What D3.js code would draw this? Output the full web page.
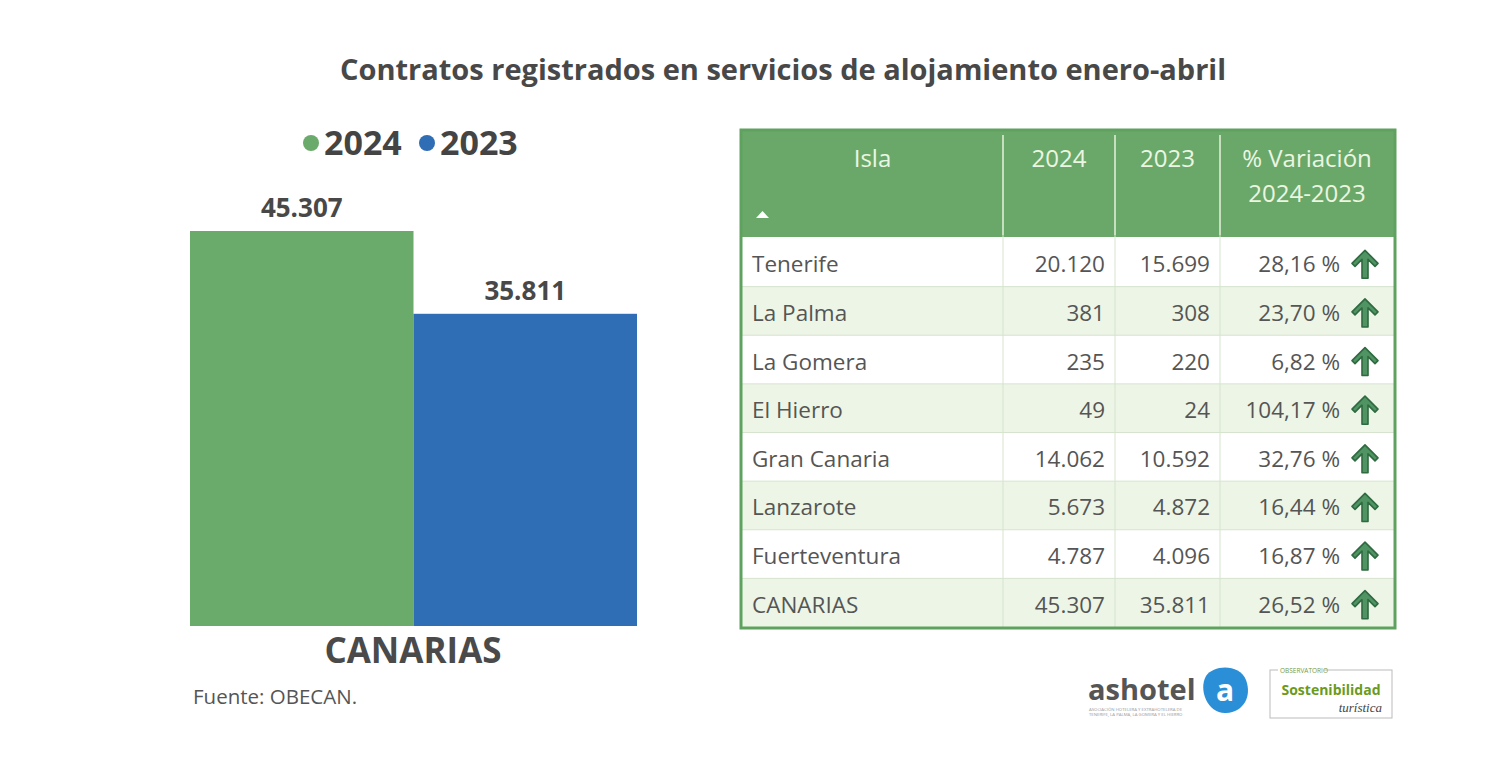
<!DOCTYPE html>
<html>
<head>
<meta charset="utf-8">
<script src="https://cdn.jsdelivr.net/npm/d3@7"></script>
<style>
  body { margin: 0; background: #fff; }
  svg { display: block; font-family: "Open Sans", "Noto Sans", sans-serif; }
</style>
</head>
<body>
<svg id="chart" width="1508" height="780"></svg>
<script>
// data
var years = ["2024", "2023"];
var totals = [45307, 35811];
var yearColors = ["#6aaa6a", "#2f6db4"];

var islas = ["Tenerife", "La Palma", "La Gomera", "El Hierro", "Gran Canaria", "Lanzarote", "Fuerteventura", "CANARIAS"];
var v2024 = [20120, 381, 235, 49, 14062, 5673, 4787, 45307];
var v2023 = [15699, 308, 220, 24, 10592, 4872, 4096, 35811];
var variacion = [28.16, 23.70, 6.82, 104.17, 32.76, 16.44, 16.87, 26.52];

var headers = ["Isla", "2024", "2023", "% Variación"];

var locale = d3.formatLocale({decimal: ",", thousands: ".", grouping: [3], currency: ["", "€"]});
var fmtInt = locale.format(",d");
var fmtPct = locale.format(",.2f");

var svg = d3.select("#chart");
var textCol = "#484848";

// title
svg.append("text")
  .attr("x", 783).attr("y", 80)
  .attr("text-anchor", "middle")
  .attr("font-size", 29).attr("font-weight", 700)
  .attr("fill", textCol)
  .text("Contratos registrados en servicios de alojamiento enero-abril");

// ---- bar chart ----
var x = d3.scaleBand().domain(years).range([190, 637]).padding(0);
var y = d3.scaleLinear().domain([0, 45307]).range([626, 231]);

svg.selectAll("rect.bar")
  .data(years)
  .enter().append("rect")
  .attr("class", "bar")
  .attr("x", function(d) { return x(d); })
  .attr("width", x.bandwidth())
  .attr("y", function(d, i) { return y(totals[i]); })
  .attr("height", function(d, i) { return y(0) - y(totals[i]); })
  .attr("fill", function(d, i) { return yearColors[i]; });

svg.selectAll("text.val")
  .data(years)
  .enter().append("text")
  .attr("class", "val")
  .attr("x", function(d) { return x(d) + x.bandwidth() / 2; })
  .attr("y", function(d, i) { return y(totals[i]) - 14; })
  .attr("text-anchor", "middle")
  .attr("font-size", 26).attr("font-weight", 700)
  .attr("fill", textCol)
  .text(function(d, i) { return fmtInt(totals[i]); });

svg.append("text")
  .attr("x", 413).attr("y", 663)
  .attr("text-anchor", "middle")
  .attr("font-size", 35).attr("font-weight", 700)
  .attr("fill", "#4a4a4a")
  .text("CANARIAS");

// legend
var legendX = [311, 427];
var lg = svg.selectAll("g.legend")
  .data(years)
  .enter().append("g")
  .attr("class", "legend")
  .attr("transform", function(d, i) { return "translate(" + legendX[i] + ",143)"; });
lg.append("circle").attr("r", 8).attr("fill", function(d, i) { return yearColors[i]; });
lg.append("text")
  .attr("x", 13).attr("y", 12)
  .attr("font-size", 34).attr("font-weight", 700)
  .attr("fill", "#444")
  .text(function(d) { return d; });

svg.append("text")
  .attr("x", 193).attr("y", 704)
  .attr("font-size", 20.5)
  .attr("fill", "#555")
  .text("Fuente: OBECAN.");

// ---- table ----
var tLeft = 742, tRight = 1394, hTop = 131, hBottom = 237;
var colEdges = [tLeft, 1003, 1115, 1220, tRight];
var rows = d3.scaleBand().domain(islas).range([hBottom + 1, 627]);
var headGreen = "#6aa86a";
var darkGreen = "#2f6a40";

svg.append("rect")
  .attr("x", tLeft).attr("y", hTop)
  .attr("width", tRight - tLeft).attr("height", hBottom - hTop)
  .attr("fill", headGreen);

svg.selectAll("rect.row")
  .data(islas)
  .enter().append("rect")
  .attr("class", "row")
  .attr("x", tLeft).attr("width", tRight - tLeft)
  .attr("y", function(d) { return rows(d); })
  .attr("height", rows.bandwidth())
  .attr("fill", function(d, i) { return i % 2 ? "#edf5e6" : "#ffffff"; });

// row separators
svg.selectAll("line.hsep")
  .data(islas.slice(1))
  .enter().append("line")
  .attr("class", "hsep")
  .attr("x1", tLeft).attr("x2", tRight)
  .attr("y1", function(d) { return rows(d); })
  .attr("y2", function(d) { return rows(d); })
  .attr("stroke", "#d6e3cf").attr("stroke-width", 1);

// column separators
svg.selectAll("line.vsep")
  .data(colEdges.slice(1, 4))
  .enter().append("line")
  .attr("x1", function(d) { return d; }).attr("x2", function(d) { return d; })
  .attr("y1", hTop + 4).attr("y2", 627)
  .attr("stroke", "#d6e3cf").attr("stroke-width", 1);
svg.selectAll("line.vhead")
  .data(colEdges.slice(1, 4))
  .enter().append("line")
  .attr("x1", function(d) { return d; }).attr("x2", function(d) { return d; })
  .attr("y1", hTop + 4).attr("y2", hBottom - 2)
  .attr("stroke", "#dff0d6").attr("stroke-width", 1.2);

// outer border
svg.append("rect")
  .attr("x", tLeft - 1).attr("y", hTop - 1)
  .attr("width", tRight - tLeft + 2).attr("height", 627 - hTop + 2)
  .attr("fill", "none")
  .attr("stroke", "#5fa25f").attr("stroke-width", 3);

// header text
var headCol = "#eaf6e2";
headers.forEach(function(h, i) {
  svg.append("text")
    .attr("x", (colEdges[i] + colEdges[i + 1]) / 2)
    .attr("y", 167)
    .attr("text-anchor", "middle")
    .attr("font-size", 24)
    .attr("fill", headCol)
    .text(h);
});
svg.append("text")
  .attr("x", (colEdges[3] + colEdges[4]) / 2)
  .attr("y", 202)
  .attr("text-anchor", "middle")
  .attr("font-size", 24)
  .attr("fill", headCol)
  .text("2024-2023");
svg.append("path")
  .attr("d", "M756,218 L769,218 L762.5,211 Z")
  .attr("fill", "#ffffff");

// cell text
var cell = svg.selectAll("g.cell")
  .data(islas)
  .enter().append("g")
  .attr("class", "cell")
  .attr("transform", function(d) { return "translate(0," + (rows(d) + rows.bandwidth() / 2 + 10) + ")"; });

var cellSize = 22.5;
cell.append("text")
  .attr("x", 752)
  .attr("font-size", cellSize).attr("fill", "#555")
  .text(function(d) { return d; });
cell.append("text")
  .attr("x", 1105).attr("text-anchor", "end")
  .attr("font-size", cellSize).attr("fill", "#555")
  .text(function(d, i) { return fmtInt(v2024[i]); });
cell.append("text")
  .attr("x", 1210).attr("text-anchor", "end")
  .attr("font-size", cellSize).attr("fill", "#555")
  .text(function(d, i) { return fmtInt(v2023[i]); });
cell.append("text")
  .attr("x", 1340).attr("text-anchor", "end")
  .attr("font-size", cellSize).attr("fill", "#555")
  .text(function(d, i) { return fmtPct(variacion[i]) + " %"; });

// up arrows
cell.append("path")
  .attr("d", "M1365,-22 L1378,-9 L1375,-6 L1368,-13 L1368,6 L1362,6 L1362,-13 L1355,-6 L1352,-9 Z")
  .attr("fill", "#4f9462")
  .attr("stroke", darkGreen).attr("stroke-width", 1.6)
  .attr("stroke-linejoin", "round");

// ---- logos ----
svg.append("text")
  .attr("x", 1088).attr("y", 700)
  .attr("font-size", 29).attr("font-weight", 700)
  .attr("fill", "#555")
  .text("ashotel");
svg.append("text")
  .attr("x", 1089).attr("y", 711)
  .attr("font-size", 4.3).attr("fill", "#999")
  .text("ASOCIACIÓN HOTELERA Y EXTRAHOTELERA DE");
svg.append("text")
  .attr("x", 1089).attr("y", 716)
  .attr("font-size", 4.3).attr("fill", "#999")
  .text("TENERIFE, LA PALMA, LA GOMERA Y EL HIERRO");
svg.append("path")
  .attr("d", "M1206,676 C1214,664 1240,664 1246,680 C1252,696 1244,712 1226,713 C1208,714 1198,690 1206,676 Z")
  .attr("fill", "#2b8fd8");
svg.append("text")
  .attr("x", 1225).attr("y", 701)
  .attr("text-anchor", "middle")
  .attr("font-size", 30).attr("font-weight", 700)
  .attr("fill", "#fff")
  .text("a");

svg.append("rect")
  .attr("x", 1270).attr("y", 670)
  .attr("width", 122).attr("height", 48)
  .attr("fill", "none").attr("stroke", "#bbb").attr("stroke-width", 1);
svg.append("rect")
  .attr("x", 1278).attr("y", 666)
  .attr("width", 46).attr("height", 8)
  .attr("fill", "#fff");
svg.append("text")
  .attr("x", 1280).attr("y", 673)
  .attr("font-size", 6.5).attr("fill", "#7a9a3a")
  .text("OBSERVATORIO");
svg.append("text")
  .attr("x", 1331).attr("y", 695)
  .attr("text-anchor", "middle")
  .attr("font-size", 14).attr("font-weight", 700)
  .attr("fill", "#6a9a20")
  .text("Sostenibilidad");
svg.append("text")
  .attr("x", 1382).attr("y", 712)
  .attr("text-anchor", "end")
  .attr("font-size", 13).attr("font-style", "italic")
  .attr("font-family", "Liberation Serif, serif")
  .attr("fill", "#444")
  .text("turística");
</script>
</body>
</html>
